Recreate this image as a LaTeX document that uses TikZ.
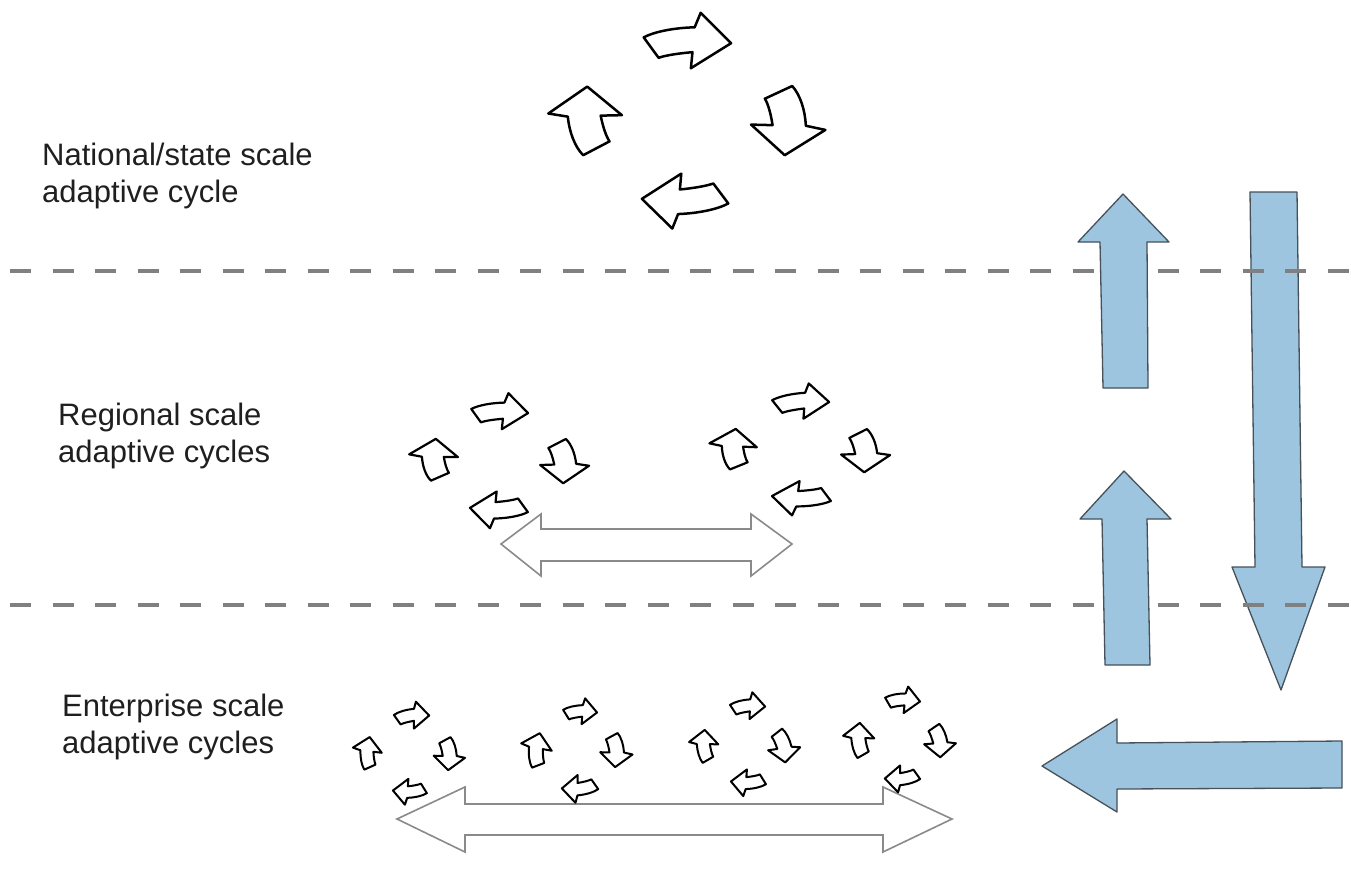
\documentclass[tikz,border=0pt]{standalone}
\usepackage{fontspec}
\setmainfont{Liberation Sans}
\definecolor{lblue}{HTML}{9DC5DF}
\definecolor{dashgray}{HTML}{808080}
\definecolor{bluedge}{HTML}{46515A}
\definecolor{dblgray}{HTML}{8A8A8A}
\tikzset{
  lbl/.style={inner sep=0pt, align=left, anchor=north west,
    font=\fontsize{31}{37}\selectfont, text=black!88},
  sepline/.style={draw=dashgray, line width=3.5pt, dash pattern=on 21pt off 21.5pt},
  bluearrow/.style={draw=bluedge, fill=lblue, line width=1.3pt, line join=round},
  dblarrow/.style={draw=dblgray, fill=white, line width=1.6pt, line join=miter},
  cycline/.style={draw=black, fill=white, line join=round},
  cyca/.pic={
    \path[cycline] (-0.09,-0.06) .. controls (0.05,-0.13) and (0.3,-0.17) .. (0.55,-0.17)
      -- (0.63,-0.35) -- (1.0,0.04) -- (0.49,0.34) -- (0.515,0.14)
      .. controls (0.35,0.15) and (0.18,0.17) .. (0.09,0.2) -- cycle;
  }
}
% tail x, tail y, tip x, tip y, head-width factor (optional line width)
\newcommand\cyc[6][2.5pt]{%
  \pgfmathsetmacro\cycang{atan2(-((#5)-(#3)),(#4)-(#2))}%
  \pgfmathsetmacro\cyclen{veclen((#4)-(#2),(#5)-(#3))}%
  \pgfmathsetmacro\cycw{\cyclen*(#6)}%
  \pic[rotate=\cycang, xscale=\cyclen, yscale=\cycw, line width=#1] at (#2,#3) {cyca};%
}
\begin{document}
\begin{tikzpicture}[x=1pt,y=-1pt]
\useasboundingbox[fill=white] (0,0) rectangle (1351,872);

% big downward blue arrow (below the dashed lines)
\draw[bluearrow] (1250,192) -- (1297,192) -- (1302,567) -- (1325,567) -- (1281,690)
  -- (1232,567) -- (1255,567) -- cycle;

% dashed separators
\coordinate (d1a) at (10,271);  \coordinate (d1b) at (1351,271);
\coordinate (d2a) at (10,605);  \coordinate (d2b) at (1351,605);
\draw[sepline] (d1a) -- (d1b);
\draw[sepline] (d2a) -- (d2b);

% blue up arrows and left arrow
\draw[bluearrow] (1103,388) -- (1100,242) -- (1078,242) -- (1123,194) -- (1169,242)
  -- (1147,242) -- (1148,388) -- cycle;
\draw[bluearrow] (1105,665) -- (1102,519) -- (1080,519) -- (1124,471) -- (1171,519)
  -- (1147,519) -- (1150,665) -- cycle;
\draw[bluearrow] (1342,741) -- (1117,743) -- (1117,719) -- (1042,766) -- (1117,812)
  -- (1117,789) -- (1342,788) -- cycle;

% labels
\node[lbl] (nat) at (42,143) {National/state scale\\adaptive cycle};
\node[lbl] (reg) at (58,403) {Regional scale\\adaptive cycles};
\node[lbl] (ent) at (62,694) {Enterprise scale\\adaptive cycles};

% double arrows
\draw[dblarrow] (501,544) -- (541,514) -- (541,529) -- (751,529) -- (751,514) -- (792,544)
  -- (751,576) -- (751,561) -- (541,561) -- (541,576) -- cycle;
\draw[dblarrow] (397,819) -- (465,787) -- (465,804) -- (883,804) -- (883,787) -- (952,819)
  -- (883,852) -- (883,835) -- (465,835) -- (465,852) -- cycle;

% national cycle
\cyc{651}{42}{731}{40}{1.0}
\cyc{786}{92}{789}{155}{1.7}
\cyc{721}{199}{642}{202}{1.0}
\cyc{589}{149}{583}{87}{1.7}

% regional cycles
\cyc[2.2pt]{476}{412}{528}{411}{1.0}
\cyc[2.2pt]{562}{443}{566}{483}{1.75}
\cyc[2.2pt]{523}{509}{470}{510}{1.0}
\cyc[2.2pt]{435}{477}{433}{439}{1.85}

\cyc[2.2pt]{777}{403}{829}{400}{0.97}
\cyc[2.2pt]{863}{433}{867}{472}{1.8}
\cyc[2.2pt]{826}{498}{772}{498}{0.92}
\cyc[2.2pt]{734}{466}{733}{429}{1.85}

% enterprise cycles
\cyc[2pt]{397}{717}{429}{714}{1.2}
\cyc[2pt]{448}{740}{450}{770}{1.5}
\cyc[2pt]{424}{791}{393}{792}{1.2}
\cyc[2pt]{367}{767}{368}{737}{1.4}

\cyc[2pt]{566}{712}{597}{711}{1.2}
\cyc[2pt]{615}{736}{617}{767}{1.5}
\cyc[2pt]{595}{787}{562}{790}{1.2}
\cyc[2pt]{535}{765}{538}{733}{1.4}

\cyc[2pt]{733}{707}{765}{705}{1.2}
\cyc[2pt]{780}{732}{787}{762}{1.5}
\cyc[2pt]{763}{782}{731}{783}{1.2}
\cyc[2pt]{705}{760}{703}{730}{1.4}

\cyc[2pt]{888}{700}{920}{700}{1.2}
\cyc[2pt]{937}{727}{942}{757}{1.5}
\cyc[2pt]{917}{777}{885}{780}{1.2}
\cyc[2pt]{860}{755}{858}{723}{1.4}
\end{tikzpicture}
\end{document}
